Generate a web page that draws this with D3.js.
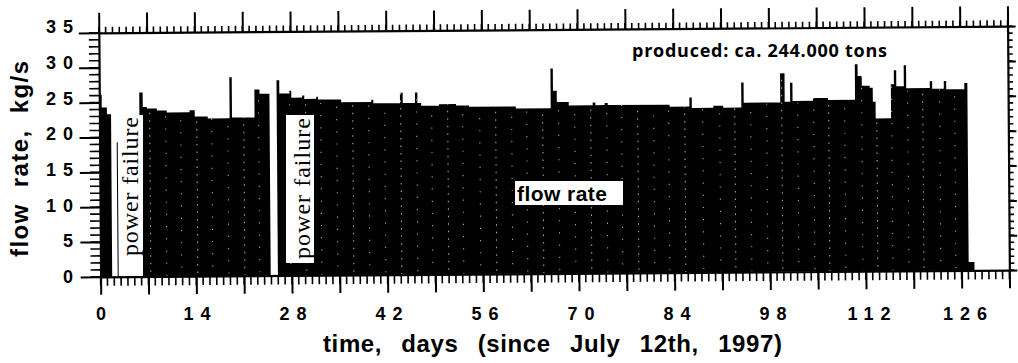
<!DOCTYPE html>
<html>
<head>
<meta charset="utf-8">
<script src="https://cdn.jsdelivr.net/npm/d3@7"></script>
<style>
  body { margin: 0; background: #fff; }
  svg { display: block; }
</style>
</head>
<body>
<div class="chart"></div>
<script>
// step breakpoints of the flow rate record
const days = [0, 0.35, 1.1, 1.7, 2.5, 2.65, 5.85, 6.35, 6.95, 8.4, 9.85, 13.2, 13.95, 15.85,
  19.05, 19.4, 22.7, 23.45, 24.9, 25.95, 26.35, 27.8, 28.1, 29.7, 30.0, 31.75, 32.0, 35.4,
  39.8, 40.1, 44.0, 44.4, 46.2, 46.55, 47.1, 49.7, 52.2, 54.1, 60.95, 66.05, 66.4, 66.95,
  68.7, 72.2, 72.6, 73.95, 74.4, 83.45, 86.35, 86.7, 89.85, 91.3, 93.95, 94.3, 99.65, 100.3,
  101.1, 101.45, 104.45, 106.65, 110.6, 111.0, 111.6, 112.75, 113.2, 113.6, 115.85, 116.3,
  116.65, 117.75, 118.1, 121.55, 121.9, 123.6, 123.95, 126.6, 127.05, 127.9, 133];
const flow = [26.1, 24.3, 23.3, 0, 19.3, 0, 26.4, 24.3, 24.1, 23.8, 23.5, 23.8, 22.9, 22.6,
  28.5, 22.7, 26.7, 26.1, 0, 28.0, 26.1, 26.5, 25.5, 25.8, 25.3, 25.6, 25.2, 24.8,
  25.1, 24.6, 26.1, 24.6, 26.1, 24.6, 24.2, 24.4, 24.2, 24.0, 23.7, 29.4, 26.2, 24.6,
  24.1, 24.5, 24.1, 24.4, 24.1, 23.8, 25.1, 23.6, 23.9, 23.6, 27.2, 24.3, 28.5, 24.4,
  27.1, 24.5, 24.9, 24.6, 29.7, 28.0, 26.6, 26.3, 24.3, 21.9, 26.8, 28.8, 26.5,
  29.5, 26.2, 27.2, 26.1, 27.2, 26.0, 26.9, 1.2, 0, 0];

// faint seams between the recorder's bars (days)
const seamDays = [7.36, 9.7, 11.9, 14.24, 16.43, 18.78, 21.12, 23.31, 27.85, 30.19, 32.39,
  34.73, 37.07, 39.41, 41.75, 44.09, 46.43, 48.63, 50.97, 53.16, 55.65, 57.99, 60.33,
  62.53, 64.87, 67.21, 69.56, 71.9, 74.24, 76.43, 78.78, 81.12, 83.31, 85.66, 88.29,
  90.78, 92.98, 95.32, 97.66, 99.86, 102.2, 104.54, 106.74, 109.08, 111.57, 113.76,
  115.96, 118.3, 120.5, 122.98, 125.18];

const xTickLabels = [0, 14, 28, 42, 56, 70, 84, 98, 112, 126];
const yTickLabels = [0, 5, 10, 15, 20, 25, 30, 35];
const failureLabels = ["power failure", "power failure"];

const W = 1018, H = 363;
const svg = d3.select(".chart").append("svg")
  .attr("width", W).attr("height", H)
  .style("background", "#fff");

const x = d3.scaleLinear().domain([0, 133]).range([99.7, 1008.5]);
const y = d3.scaleLinear().domain([0, 35]).range([273.5, 29.5]);

// the scanned plot frame sits slightly tilted
const tilt = "rotate(-0.42,555,152)";
const plot = svg.append("g").attr("transform", tilt);

const pts = days.map((d, i) => [d, flow[i]]);
const area = d3.area()
  .x(d => x(d[0]))
  .y0(y(0))
  .y1(d => y(d[1]))
  .curve(d3.curveStepAfter);

plot.append("clipPath").attr("id", "flowclip")
  .append("path").attr("d", area(pts));

plot.append("path")
  .attr("d", area(pts))
  .attr("fill", "#000");

plot.append("g")
  .attr("clip-path", "url(#flowclip)")
  .selectAll("line")
  .data(seamDays)
  .enter().append("line")
  .attr("x1", d => x(d)).attr("x2", d => x(d))
  .attr("y1", y(31)).attr("y2", y(0))
  .attr("stroke", "#fff")
  .attr("stroke-width", 1)
  .attr("stroke-dasharray", (d, i) => i % 3 === 0 ? "1.5,6" : "1.2,11")
  .attr("stroke-dashoffset", (d, i) => (i * 5) % 9)
  .attr("opacity", 0.7);

const oneDay = d3.range(0, 134);
const week = d3.range(0, 134, 7);
const unit = d3.range(0, 36);
const five = d3.range(0, 36, 5);

// minor ticks as thin filled bars: one per day / per kg/s
const minor = plot.append("g").attr("fill", "#000");
minor.selectAll(".mb").data(oneDay).enter().append("rect").attr("class", "mb")
  .attr("x", d => x(d) - 0.8).attr("y", y(0))
  .attr("width", 1.6).attr("height", 9);
minor.selectAll(".mt").data(oneDay).enter().append("rect").attr("class", "mt")
  .attr("x", d => x(d) - 0.8).attr("y", y(35) - 6)
  .attr("width", 1.6).attr("height", 6);
minor.selectAll(".ml").data(unit).enter().append("rect").attr("class", "ml")
  .attr("x", x(0) - 10).attr("y", d => y(d) - 0.8)
  .attr("width", 10).attr("height", 1.6);
minor.selectAll(".mr").data(unit).enter().append("rect").attr("class", "mr")
  .attr("x", x(133)).attr("y", d => y(d) - 0.8)
  .attr("width", 5).attr("height", 1.6);

// major ticks and frame lines
function frame(axis, tr) {
  const g = plot.append("g").attr("transform", tr).call(axis);
  g.selectAll("text").remove();
  g.selectAll(".tick line").attr("stroke", "#000").attr("stroke-width", 2);
  g.select(".domain").attr("stroke", "#000").attr("stroke-width", 2.2);
  return g;
}
frame(d3.axisBottom(x).tickValues(week).tickSize(18).tickSizeOuter(0), `translate(0,${y(0)})`);
frame(d3.axisTop(x).tickValues(week).tickSize(20).tickSizeOuter(0), `translate(0,${y(35)})`);
frame(d3.axisLeft(y).tickValues(five).tickSize(20).tickSizeOuter(0), `translate(${x(0)},0)`);
frame(d3.axisRight(y).tickValues(five).tickSize(8).tickSizeOuter(0), `translate(${x(133)},0)`);

// tick labels were pasted upright, on their own spacing
const xLab = d3.scaleLinear().domain([0, 126]).range([101, 965]);
const yLab = d3.scaleLinear().domain([0, 35]).range([276.5, 27]);
const tickFont = "'Liberation Sans', Arial, sans-serif";

svg.append("g").selectAll("text")
  .data(xTickLabels)
  .enter().append("text")
  .attr("x", d => xLab(d) + 3.5)
  .attr("y", 320)
  .attr("text-anchor", "middle")
  .style("font-family", tickFont)
  .style("font-weight", "bold")
  .style("font-size", "18px")
  .style("letter-spacing", "7px")
  .text(d => d);

svg.append("g").selectAll("text")
  .data(yTickLabels)
  .enter().append("text")
  .attr("x", 73 + 7)
  .attr("y", d => yLab(d))
  .attr("dy", "0.36em")
  .attr("text-anchor", "end")
  .style("font-family", tickFont)
  .style("font-weight", "bold")
  .style("font-size", "18px")
  .style("letter-spacing", "7px")
  .text(d => d);

// axis titles
svg.append("text")
  .attr("transform", "translate(28,159) rotate(-90)")
  .attr("text-anchor", "middle")
  .attr("textLength", 196)
  .style("font-family", tickFont)
  .style("font-weight", "bold")
  .style("font-size", "24px")
  .style("word-spacing", "8px")
  .text("flow rate, kg/s");

svg.append("text")
  .attr("x", 323)
  .attr("y", 352)
  .attr("textLength", 459)
  .style("font-family", tickFont)
  .style("font-weight", "bold")
  .style("font-size", "24px")
  .style("word-spacing", "12px")
  .text("time, days (since July 12th, 1997)");

// annotations
svg.append("text")
  .attr("x", 632)
  .attr("y", 57)
  .attr("textLength", 255)
  .style("font-family", "'Open Sans', sans-serif")
  .style("font-weight", "bold")
  .style("font-size", "18px")
  .text("produced: ca. 244.000 tons");

svg.append("rect")
  .attr("x", 515).attr("y", 181).attr("width", 108).attr("height", 24)
  .attr("fill", "#fff");
svg.append("text")
  .attr("x", 517)
  .attr("y", 201)
  .attr("textLength", 90)
  .style("font-family", tickFont)
  .style("font-weight", "bold")
  .style("font-size", "21px")
  .text("flow rate");

const boxes = [
  { x: 119, y: 115, w: 24, h: 161, tx: 138, ty: 256, len: 139 },
  { x: 286, y: 115, w: 28, h: 148, tx: 310, ty: 259, len: 141 }
];
boxes.forEach((b, i) => {
  svg.append("rect")
    .attr("x", b.x).attr("y", b.y).attr("width", b.w).attr("height", b.h)
    .attr("fill", "#fff");
  svg.append("text")
    .attr("transform", `translate(${b.tx},${b.ty}) rotate(-90)`)
    .attr("textLength", b.len)
    .style("font-family", "'Liberation Serif', 'Times New Roman', serif")
    .style("font-size", "24px")
    .text(failureLabels[i]);
});
</script>
</body>
</html>
